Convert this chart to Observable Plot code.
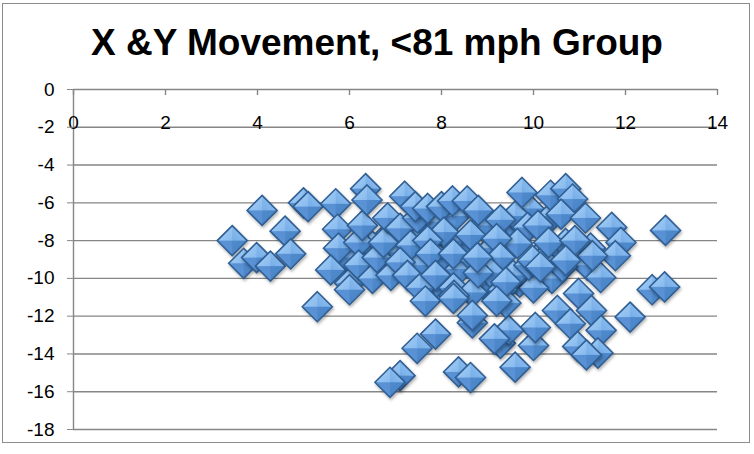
<!DOCTYPE html>
<html><head><meta charset="utf-8">
<script src="https://cdn.jsdelivr.net/npm/d3@7"></script>
<script src="https://cdn.jsdelivr.net/npm/@observablehq/plot@0.6"></script>
<style>
body{margin:0;background:#fff;}
#wrap{position:relative;width:754px;height:454px;overflow:hidden;font-family:"Liberation Sans",Arial,sans-serif;}
#frame{position:absolute;left:2px;top:3px;width:748px;height:440px;border:1.5px solid #8c8c8c;box-sizing:border-box;}
#title{position:absolute;left:0;top:24px;width:754px;text-align:center;font-weight:bold;font-size:37px;line-height:1;color:#000;}
#chart{position:absolute;left:0;top:70px;}
#chart g[aria-label="dot"] path{filter:drop-shadow(1px 2px 1.5px rgba(0,0,0,0.3));}
</style></head><body>
<svg width="0" height="0" style="position:absolute">
<defs>
<linearGradient id="gTL" x1="0" y1="0" x2="1" y2="1"><stop offset="0" stop-color="#acd3f8"/><stop offset="1" stop-color="#87baee"/></linearGradient>
<linearGradient id="gTR" x1="1" y1="0" x2="0" y2="1"><stop offset="0" stop-color="#97c6f3"/><stop offset="1" stop-color="#76ade8"/></linearGradient>
<linearGradient id="gBL" x1="0" y1="1" x2="1" y2="0"><stop offset="0" stop-color="#5b95d8"/><stop offset="1" stop-color="#5890d3"/></linearGradient>
<linearGradient id="gBR" x1="1" y1="1" x2="0" y2="0"><stop offset="0" stop-color="#4882c6"/><stop offset="1" stop-color="#4f8acc"/></linearGradient>
<pattern id="pyr" patternUnits="objectBoundingBox" patternContentUnits="objectBoundingBox" width="1" height="1">
<polygon points="0,0.5 0.5,0 0.5,0.5" fill="url(#gTL)"/>
<polygon points="0.5,0 1,0.5 0.5,0.5" fill="url(#gTR)"/>
<polygon points="1,0.5 0.5,1 0.5,0.5" fill="url(#gBR)"/>
<polygon points="0.5,1 0,0.5 0.5,0.5" fill="url(#gBL)"/>
</pattern>
</defs></svg>
<div id="wrap"><div id="frame"></div><div id="title">X &amp;Y Movement, &lt;81 mph Group</div><div id="chart"></div></div>
<script>
// Hidden / overlapped points in the dense cluster (drawn first)
const hiddenPoints = [
  [7.4,-7.3],[7.9,-7.0],[8.3,-6.7],[8.9,-7.2],[9.5,-7.0],[9.1,-8.4],[8.5,-8.2],[8.0,-8.9],[7.5,-9.3],
  [8.4,-9.5],[9.7,-10.2],[10.4,-10.0],[10.0,-10.5],[6.7,-9.3],[7.0,-8.6],[9.9,-6.3],[10.4,-6.7],
  [9.6,-6.7],[8.9,-10.3],[7.9,-10.2],[10.5,-8.6],[9.3,-9.5],[7.3,-7.8],[8.2,-8.0],[6.9,-7.6],[5.9,-8.9],[6.5,-8.3]
];
// Visible points [x movement, y movement]
const visiblePoints = [
  [3.45,-8.0],[3.7,-9.2],[3.98,-8.9],[4.1,-6.4],[4.28,-9.35],[4.6,-7.5],[4.72,-8.7],[5.0,-6.0],[5.1,-6.2],[5.3,-11.5],
  [5.7,-6.05],[5.74,-7.4],[5.76,-8.4],[5.59,-9.55],[6.0,-10.25],[6.2,-8.1],[6.28,-7.2],[6.35,-5.25],[6.38,-5.85],[6.2,-9.3],
  [6.5,-10.0],[6.6,-8.9],[6.74,-8.1],[6.83,-6.8],[6.9,-9.84],[7.1,-7.35],[7.2,-5.65],[7.33,-8.25],[7.1,-9.15],[7.26,-9.84],
  [7.48,-6.8],[7.43,-6.2],[7.54,-10.5],[7.65,-11.2],[7.87,-12.95],[7.47,-13.7],[7.1,-15.15],[6.88,-15.5],[7.7,-6.3],[8.0,-6.2],
  [8.24,-5.9],[8.56,-5.9],[8.8,-6.4],[9.28,-6.9],[8.05,-7.55],[8.63,-7.7],[9.87,-7.3],[10.1,-7.2],[9.65,-8.15],[9.2,-7.9],
  [7.7,-8.0],[7.76,-8.7],[8.26,-8.7],[8.74,-9.05],[9.28,-8.9],[10.1,-8.9],[9.56,-9.84],[9.9,-9.3],[9.07,-9.7],[7.87,-9.84],
  [8.26,-10.5],[8.67,-10.74],[9.33,-10.6],[8.8,-9.7],[9.75,-5.45],[10.37,-5.6],[10.7,-5.25],[10.85,-5.8],[10.6,-6.6],[11.13,-6.8],
  [11.7,-7.3],[11.9,-8.1],[12.87,-7.46],[10.7,-8.15],[11.24,-8.4],[11.78,-8.8],[11.17,-9.3],[10.63,-9.4],[10.2,-9.05],[11.46,-9.95],
  [10.98,-10.8],[12.58,-10.6],[12.85,-10.45],[10.33,-8.1],[11.26,-11.7],[10.52,-11.7],[12.1,-12.05],[11.47,-12.75],[10.8,-12.4],[10.96,-13.6],
  [11.4,-13.95],[11.15,-14.05],[10.0,-13.55],[10.04,-12.6],[9.6,-14.7],[9.28,-13.44],[9.46,-12.75],[8.67,-12.35],[8.37,-14.95],[8.63,-15.25],
  [9.4,-11.3],[9.15,-13.2],[8.27,-10.9],[9.4,-10.2],[9.2,-11.2],[6.0,-10.6],[8.26,-11.06],[11.28,-8.8],[10.9,-8.0],[10.7,-9.05],
  [9.98,-9.05],[10.15,-9.4],[8.67,-11.96],[8.78,-8.9]
];
const xTicks = [0, 2, 4, 6, 8, 10, 12, 14];
const yTicks = [0, -2, -4, -6, -8, -10, -12, -14, -16, -18];

const points = hiddenPoints.concat(visiblePoints).map(([x, y]) => ({x, y}));

const diamond = {
  draw(ctx, size) {
    const r = Math.sqrt(size / Math.PI);
    ctx.moveTo(0, -r); ctx.lineTo(r, 0); ctx.lineTo(0, r); ctx.lineTo(-r, 0); ctx.closePath();
  }
};
const axisGray = "#868686";

const chart = Plot.plot({
  width: 754,
  height: 384,
  marginLeft: 73,
  marginRight: 37,
  marginTop: 19,
  marginBottom: 25,
  style: {fontFamily: "'Liberation Sans', Arial, sans-serif", fontSize: "19px", background: "transparent", color: "#000"},
  x: {domain: [0, 14], axis: null},
  y: {domain: [-18, 0]},
  marks: [
    Plot.ruleY(yTicks, {stroke: axisGray, strokeWidth: 1.4}),
    Plot.ruleX([0], {stroke: axisGray, strokeWidth: 1.4}),
    Plot.ruleX(xTicks, {x: d => d, y1: 0, y2: 0, insetBottom: -6, stroke: axisGray, strokeWidth: 1.4}),
    Plot.text(xTicks, {x: d => d, y: 0, dy: 33, text: d => String(d), fontSize: 19, fill: "#000"}),
    Plot.axisY({ticks: yTicks, tickSize: 6, tickPadding: 13, tickFormat: d => String(d), fontSize: 19, stroke: axisGray, fill: "#000", label: null}),
    Plot.dot(points, {x: "x", y: "y", r: 15, symbol: diamond, fill: "url(#pyr)", stroke: "#2f5f94", strokeWidth: 1.6})
  ]
});
document.getElementById("chart").appendChild(chart);
</script>
</body></html>
